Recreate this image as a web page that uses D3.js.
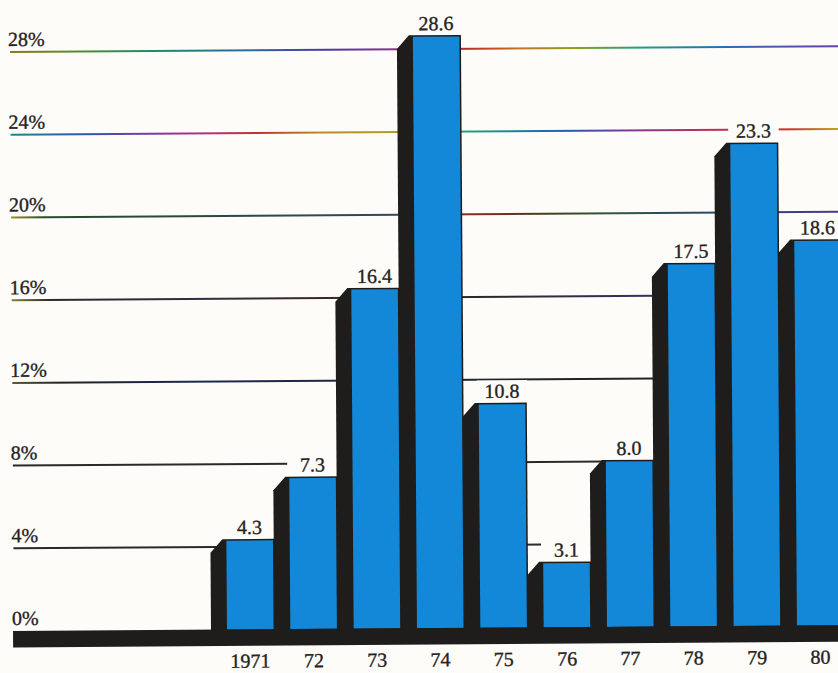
<!DOCTYPE html>
<html><head><meta charset="utf-8">
<script src="https://cdn.jsdelivr.net/npm/d3@7"></script>
<style>
html,body{margin:0;padding:0;background:#fdfcf8;}
svg{display:block;}
text{font-family:"Liberation Serif","Times New Roman",serif;fill:#26221e;stroke:#26221e;stroke-width:0.35px;}
</style>
</head><body>
<svg id="chart" width="838" height="673"></svg>
<script>
// ---- data ----
const years = ["1971","72","73","74","75","76","77","78","79","80"];
const rates = [4.3, 7.3, 16.4, 28.6, 10.8, 3.1, 8.0, 17.5, 23.3, 18.6];
const rateLabels = ["4.3","7.3","16.4","28.6","10.8","3.1","8.0","17.5","23.3","18.6"];
const yTicks = [0, 4, 8, 12, 16, 20, 24, 28];
const yTickLabels = ["0%","4%","8%","12%","16%","20%","24%","28%"];

// ---- styles ----
const blue = "#1488d8", ink = "#1f1d1b";
// gradient stops [offsetX, colour] for each gridline (by tick value)
const gridStops = {
  28: [[12,"#8c7a1e"],[70,"#5a8a2a"],[160,"#1f8a6a"],[250,"#2a6aa8"],[330,"#4a3aa0"],[395,"#8a3090"],[470,"#c02a2a"],[525,"#c07820"],[580,"#8aa020"],[640,"#20a080"],[720,"#2a70b0"],[838,"#6a40b0"]],
  24: [[12,"#1a8a80"],[80,"#2a5ab0"],[150,"#7a3aa0"],[200,"#b0308a"],[260,"#c83030"],[320,"#c08a20"],[400,"#b0a020"],[470,"#20a080"],[570,"#2a5ab0"],[630,"#7a3aa0"],[700,"#b83060"],[790,"#c83030"],[838,"#c0a020"]],
  20: [[12,"#a09020"],[45,"#2a4a30"],[200,"#2a4a3a"],[380,"#2a4a6a"],[470,"#8a2a2a"],[540,"#4a3a20"],[610,"#2a5a3a"],[700,"#2a4a6a"],[838,"#4a3a90"]],
  16: [[12,"#8a8030"],[50,"#2a2a2a"],[200,"#3a2a40"],[330,"#3a2a20"],[500,"#2a2a2a"],[640,"#3a3060"],[838,"#2a2a3a"]],
  12: [[12,"#5a5a30"],[60,"#222222"],[200,"#1a2a50"],[600,"#222222"],[838,"#2a2a2a"]],
  8:  [[12,"#2a2a2a"],[838,"#2a2a2a"]],
  4:  [[12,"#2a2a2a"],[838,"#2a2a2a"]]
};

const svg = d3.select("#chart");
const defs = svg.append("defs");
const g = svg.append("g").attr("transform","rotate(-0.4 419 340)");

const y = d3.scaleLinear().domain([0, 28]).range([628.2, 49.2]);
const x = d3.scaleBand().domain(years).range([216.6, 849.9]).paddingInner(0.265).paddingOuter(0.1325);
const w = x.bandwidth();
const gridX0 = 12, gridX1 = 845;

// gridlines
yTicks.filter(t => t > 0).forEach(t => {
  const id = "grad" + t;
  const gr = defs.append("linearGradient").attr("id", id)
    .attr("gradientUnits","userSpaceOnUse").attr("x1", gridX0).attr("x2", 838).attr("y1",0).attr("y2",0);
  gridStops[t].forEach(([px, c]) => gr.append("stop")
    .attr("offset", ((px - gridX0) / (838 - gridX0))).attr("stop-color", c));
  g.append("line").attr("x1", gridX0).attr("x2", gridX1)
    .attr("y1", y(t)).attr("y2", y(t))
    .attr("stroke", `url(#${id})`).attr("stroke-width", 2);
});

// y tick labels
g.selectAll(".ytl").data(yTicks).join("text").attr("class","ytl")
  .attr("x", 10).attr("y", d => y(d) - 6)
  .attr("font-size", 20)
  .text((d, i) => yTickLabels[i]);

// label backgrounds (mask gridlines)
g.selectAll(".lbg").data(years).join("rect").attr("class","lbg")
  .attr("x", d => x(d) - 2).attr("width", w + 4)
  .attr("y", (d, i) => y(rates[i]) - 24).attr("height", 24)
  .attr("fill", "#fdfcf8");

// bars: shadow + blue face
const bars = g.selectAll(".bar").data(years).join("g").attr("class","bar");
bars.append("path")
  .attr("d", (d, i) => {
    const L = x(d), T = y(rates[i]), B = y(0) + 2;
    return `M${L-16},${B}L${L-16},${T+12}L${L-4},${T-1.5}L${L+w+1.5},${T-1.5}L${L+w+1.5},${B}Z`;
  })
  .attr("fill", ink);
bars.append("rect")
  .attr("x", d => x(d)).attr("width", w)
  .attr("y", (d, i) => y(rates[i])).attr("height", (d, i) => y(0) - y(rates[i]))
  .attr("fill", blue);

// base band
g.append("rect").attr("x", 11).attr("width", 840).attr("y", y(0)).attr("height", 16.5).attr("fill", ink);

// value labels
g.selectAll(".vl").data(years).join("text").attr("class","vl")
  .attr("x", d => x(d) + w / 2).attr("y", (d, i) => y(rates[i]) - 6.5)
  .attr("text-anchor","middle").attr("font-size", 20)
  .text((d, i) => rateLabels[i]);

// x labels
g.selectAll(".xl").data(years).join("text").attr("class","xl")
  .attr("x", d => x(d) + w / 2).attr("y", 666.5)
  .attr("text-anchor","middle").attr("font-size", 20)
  .text(d => d);
</script>
</body></html>
